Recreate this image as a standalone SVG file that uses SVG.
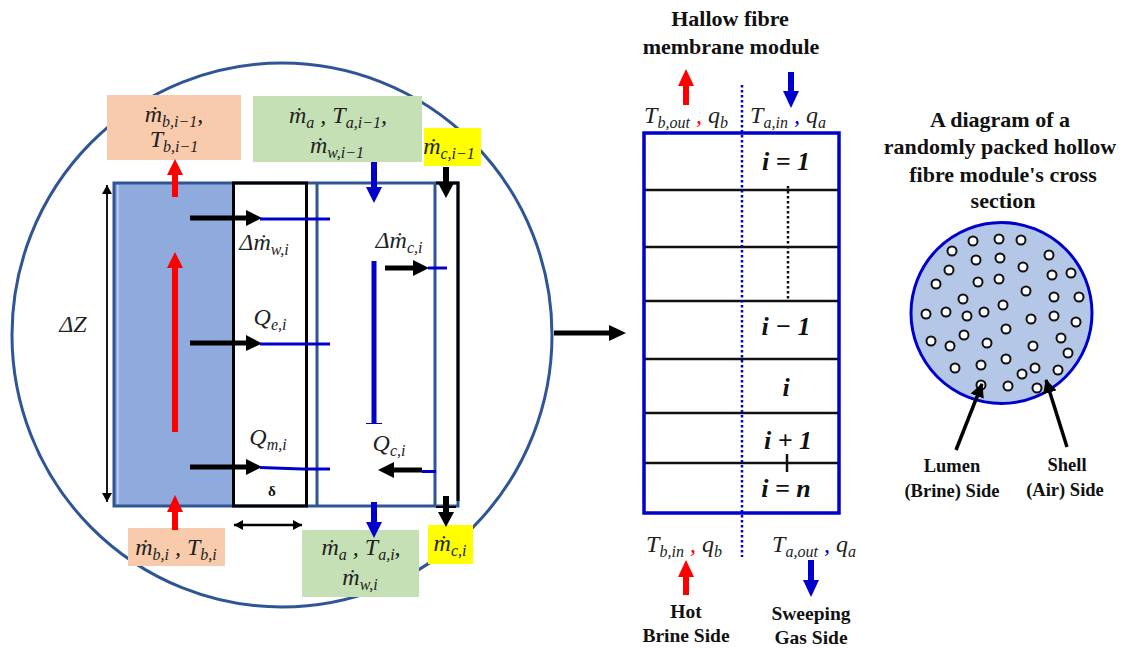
<svg xmlns="http://www.w3.org/2000/svg" width="1124" height="648" viewBox="0 0 1124 648">
<style>
text{font-family:"Liberation Serif",serif;fill:#111}
.m{font-style:italic;font-size:24px;text-anchor:middle;fill:#222}
.s{font-size:16px}
.b{font-weight:bold;font-size:22px;text-anchor:middle}
.sb{font-weight:bold;font-size:19.5px;text-anchor:middle}
.t22{font-weight:bold;font-size:22px;text-anchor:middle}
.i{font-weight:bold;font-style:italic;font-size:26px;text-anchor:middle}
.bl{fill:none;stroke:#2f5597;stroke-width:3}
.k{fill:none;stroke:#000;stroke-width:3}
.u{fill:none;stroke:#0000cd;stroke-width:3}
.row{fill:none;stroke:#111;stroke-width:2.5}
.f{fill:#fff;stroke:#111;stroke-width:2}
</style>
<defs>
<marker id="hk" markerUnits="userSpaceOnUse" markerWidth="14" markerHeight="14" refX="13" refY="7" orient="auto"><path d="M0 0L14 7L0 14Z" fill="#000"/></marker>
<marker id="hs" markerUnits="userSpaceOnUse" markerWidth="10" markerHeight="10" refX="9" refY="5" orient="auto-start-reverse"><path d="M0 0L9 5L0 10Z" fill="#000"/></marker>
</defs>
<g id="outer-circle"><ellipse cx="282" cy="335" rx="270" ry="272" class="bl"/></g>
<g id="cell">
<rect x="114" y="183" width="119" height="323" fill="#8faadc"/>
<rect x="114" y="183" width="344" height="323" class="bl"/>
<line x1="118" y1="185" x2="118" y2="504" stroke="#c5d3ee" stroke-width="1.500"/>
<rect x="233.500" y="183" width="73" height="323" class="k"/>
<line x1="317" y1="183" x2="317" y2="506" class="bl"/>
<line x1="435" y1="183" x2="435" y2="506" class="bl"/>
<path d="M436 183H458V501" class="k"/>
</g>
<g id="box-brine-top"><rect x="107" y="95" width="134" height="65" fill="#f8cbad"/><text class="m" x="174" y="122">ṁ<tspan class="s" dy="5">b,i−1</tspan><tspan dy="-5">,</tspan></text><text class="m" x="174" y="147">T<tspan class="s" dy="5">b,i−1</tspan></text></g>
<g id="box-air-top"><rect x="253" y="96" width="169" height="66" fill="#c5e0b4"/><text class="m" x="338" y="123">ṁ<tspan class="s" dy="5">a</tspan><tspan dy="-5"> , T</tspan><tspan class="s" dy="5">a,i−1</tspan><tspan dy="-5">,</tspan></text><text class="m" x="337" y="153">ṁ<tspan class="s" dy="5">w,i−1</tspan></text></g>
<g id="box-c-top"><rect x="424" y="128" width="57" height="38" fill="#ff0"/><text class="m" x="449" y="154">ṁ<tspan class="s" dy="5">c,i−1</tspan></text></g>
<g id="box-brine-bottom"><rect x="128" y="528" width="97" height="38" fill="#f8cbad"/><text class="m" x="176" y="555">ṁ<tspan class="s" dy="5">b,i</tspan><tspan dy="-5"> , T</tspan><tspan class="s" dy="5">b,i</tspan></text></g>
<g id="box-air-bottom"><rect x="302" y="530" width="117" height="67" fill="#c5e0b4"/><text class="m" x="361" y="555">ṁ<tspan class="s" dy="5">a</tspan><tspan dy="-5"> , T</tspan><tspan class="s" dy="5">a,i</tspan><tspan dy="-5">,</tspan></text><text class="m" x="360" y="585">ṁ<tspan class="s" dy="5">w,i</tspan></text></g>
<g id="box-c-bottom"><rect x="428" y="525" width="45" height="39" fill="#ff0"/><text class="m" x="450" y="551">ṁ<tspan class="s" dy="5">c,i</tspan></text></g>
<g id="labels">
<text class="m" x="73" y="332">ΔZ</text>
<text class="m" x="264" y="250">Δṁ<tspan class="s" dy="5">w,i</tspan></text>
<text class="m" x="399" y="248">Δṁ<tspan class="s" dy="5">c,i</tspan></text>
<text class="m" x="270" y="325">Q<tspan class="s" dy="5">e,i</tspan></text>
<text class="m" x="268" y="445">Q<tspan class="s" dy="5">m,i</tspan></text>
<text class="m" x="389" y="451">Q<tspan class="s" dy="5">c,i</tspan></text>
<text x="272" y="496" font-size="15" font-weight="bold" text-anchor="middle">δ</text>
</g>
<g id="connectors">
<path d="M175 197V170" stroke="#f00" stroke-width="6" fill="none"/><path d="M167 175L175 159L183 175Z" fill="#f00"/>
<path d="M175 432V262" stroke="#f00" stroke-width="6"/><path d="M167 268L175 252L183 268Z" fill="#f00"/>
<path d="M175 530V505" stroke="#f00" stroke-width="6"/><path d="M167 512L175 495L183 512Z" fill="#f00"/>
<path d="M374 162V192" stroke="#0000cd" stroke-width="6"/><path d="M366 187L374 203L382 187Z" fill="#0000cd"/>
<path d="M374 261V423" stroke="#0000cd" stroke-width="5"/><path d="M366 423.500H382" stroke="#0000cd" stroke-width="1"/>
<path d="M374 502V528" stroke="#0000cd" stroke-width="6"/><path d="M366 522L374 538L382 522Z" fill="#0000cd"/>
<path d="M446 167V188" stroke="#000" stroke-width="6"/><path d="M438 183L446 198L454 183Z" fill="#000"/>
<path d="M446 496V518" stroke="#000" stroke-width="6"/><path d="M436 507H456" stroke="#000" stroke-width="2"/><path d="M438 512L446 527L454 512Z" fill="#000"/>
<path d="M190 218H250" stroke="#000" stroke-width="5"/><path d="M246 210L262 218L246 226Z" fill="#000"/><path d="M260 219H330" class="u"/>
<path d="M190 343H250" stroke="#000" stroke-width="5"/><path d="M246 335L262 343.500L246 351Z" fill="#000"/><path d="M260 344H330" class="u"/>
<path d="M190 467H250" stroke="#000" stroke-width="5"/><path d="M246 459L262 467L246 475Z" fill="#000"/><path d="M260 467.500L302 469H330" class="u"/>
<path d="M385 268H418" stroke="#000" stroke-width="5"/><path d="M413 260L429 268L413 276Z" fill="#000"/><path d="M428 268H447" class="u"/>
<path d="M422 470H390" stroke="#000" stroke-width="5"/><path d="M394 462L378 470L394 478Z" fill="#000"/><path d="M422 471.500H436" class="u"/>
<path d="M107 185V502" stroke="#000" stroke-width="1.800" marker-start="url(#hs)" marker-end="url(#hs)" fill="none"/>
<path d="M234 525H302" stroke="#000" stroke-width="2.500" marker-start="url(#hs)" marker-end="url(#hs)" fill="none"/>
<path d="M554 333H612" stroke="#000" stroke-width="5"/><path d="M609 325L626 333L609 341Z" fill="#000"/>
<path d="M686 105V82" stroke="#f00" stroke-width="6"/><path d="M678 86L686 69L694 86Z" fill="#f00"/>
<path d="M791 72V95" stroke="#0000cd" stroke-width="6"/><path d="M783 91L791 108L799 91Z" fill="#0000cd"/>
<path d="M686 595V572" stroke="#f00" stroke-width="6"/><path d="M678 577L686 560L694 577Z" fill="#f00"/>
<path d="M811 560V585" stroke="#0000cd" stroke-width="6"/><path d="M803 580L811 597L819 580Z" fill="#0000cd"/>
</g>
<g id="module">
<rect x="644" y="133" width="195" height="380" fill="none" stroke="#0000cd" stroke-width="3.500"/>
<path d="M645 190H838M645 247H838M645 301H838M645 359H838M645 413H838M645 463H838" class="row"/>
<path d="M742 85V557" stroke="#0000cd" stroke-width="2.500" stroke-dasharray="2.500 2.500" fill="none"/>
<path d="M788 186V301" stroke="#111" stroke-width="2.500" stroke-dasharray="2.500 2.500" fill="none"/>
<path d="M787 454V472" stroke="#111" stroke-width="2.500"/>
<text class="i" x="786" y="170">i = 1</text>
<text class="i" x="786" y="335">i − 1</text>
<text class="i" x="786" y="396">i</text>
<text class="i" x="788" y="449">i + 1</text>
<text class="i" x="786" y="497">i = n</text>
</g>
<g id="module-labels">
<text class="b" x="730" y="26">Hallow fibre</text>
<text class="b" x="731" y="54">membrane module</text>
<text class="m" x="686" y="123">T<tspan class="s" dy="5">b,out</tspan><tspan dy="-5" fill="#f00"> , </tspan>q<tspan class="s" dy="5">b</tspan></text>
<text class="m" x="788" y="123">T<tspan class="s" dy="5">a,in</tspan><tspan dy="-5" fill="#0000cd"> , </tspan>q<tspan class="s" dy="5">a</tspan></text>
<text class="m" x="684" y="552">T<tspan class="s" dy="5">b,in</tspan><tspan dy="-5" fill="#f00"> , </tspan>q<tspan class="s" dy="5">b</tspan></text>
<text class="m" x="814" y="552">T<tspan class="s" dy="5">a,out</tspan><tspan dy="-5" fill="#0000cd"> , </tspan>q<tspan class="s" dy="5">a</tspan></text>
<text class="sb" x="686" y="618">Hot</text>
<text class="sb" x="686" y="642">Brine Side</text>
<text class="sb" x="811" y="620">Sweeping</text>
<text class="sb" x="811" y="644">Gas Side</text>
</g>
<g id="cross-section">
<circle cx="1001.500" cy="313" r="90.500" fill="#b4c7e7" stroke="#0000cd" stroke-width="3"/>
<g class="f">
<circle cx="952" cy="251" r="4.500"/><circle cx="973" cy="241" r="4.500"/><circle cx="999" cy="239" r="4.500"/><circle cx="1021" cy="240" r="4.500"/><circle cx="1049" cy="255" r="4.500"/>
<circle cx="976" cy="260" r="4.500"/><circle cx="1000" cy="258" r="4.500"/><circle cx="949" cy="270" r="4.500"/><circle cx="1023" cy="267" r="4.500"/><circle cx="1052" cy="275" r="4.500"/><circle cx="1071" cy="273" r="4.500"/>
<circle cx="936" cy="284" r="4.500"/><circle cx="978" cy="282" r="4.500"/><circle cx="999" cy="279" r="4.500"/><circle cx="1026" cy="291" r="4.500"/><circle cx="1054" cy="297" r="4.500"/><circle cx="1079" cy="297" r="4.500"/>
<circle cx="963" cy="299" r="4.500"/><circle cx="1003" cy="305" r="4.500"/>
<circle cx="926" cy="314" r="4.500"/><circle cx="946" cy="312" r="4.500"/><circle cx="967" cy="316" r="4.500"/><circle cx="984" cy="312" r="4.500"/><circle cx="1031" cy="319" r="4.500"/><circle cx="1054" cy="316" r="4.500"/><circle cx="1076" cy="322" r="4.500"/>
<circle cx="1006" cy="329" r="4.500"/>
<circle cx="931" cy="341" r="4.500"/><circle cx="950" cy="346" r="4.500"/><circle cx="964" cy="335" r="4.500"/><circle cx="987" cy="343" r="4.500"/><circle cx="1033" cy="346" r="4.500"/><circle cx="1061" cy="338" r="4.500"/><circle cx="1068" cy="353" r="4.500"/>
<circle cx="955" cy="368" r="4.500"/><circle cx="981" cy="365" r="4.500"/><circle cx="1006" cy="359" r="4.500"/><circle cx="1022" cy="374" r="4.500"/><circle cx="1035" cy="368" r="4.500"/><circle cx="1058" cy="370" r="4.500"/>
<circle cx="981" cy="385" r="4.500"/><circle cx="1008" cy="386" r="4.500"/><circle cx="1037" cy="388" r="4.500"/>
</g>
<path d="M956 450L982 384" stroke="#000" stroke-width="3.500" fill="none" marker-end="url(#hk)"/>
<path d="M1067 447L1046 380" stroke="#000" stroke-width="3.500" fill="none" marker-end="url(#hk)"/>
<text class="t22" x="1000" y="127">A diagram of a</text>
<text class="t22" x="1000" y="154">randomly packed hollow</text>
<text class="t22" x="1003" y="182">fibre module's cross</text>
<text class="t22" x="1003" y="208">section</text>
<text class="sb" x="952" y="472" style="font-size:18.500px">Lumen</text>
<text class="sb" x="952" y="497" style="font-size:18.500px">(Brine) Side</text>
<text class="sb" x="1067" y="471" style="font-size:18.500px">Shell</text>
<text class="sb" x="1065" y="496" style="font-size:18.500px">(Air) Side</text>
</g>
</svg>
